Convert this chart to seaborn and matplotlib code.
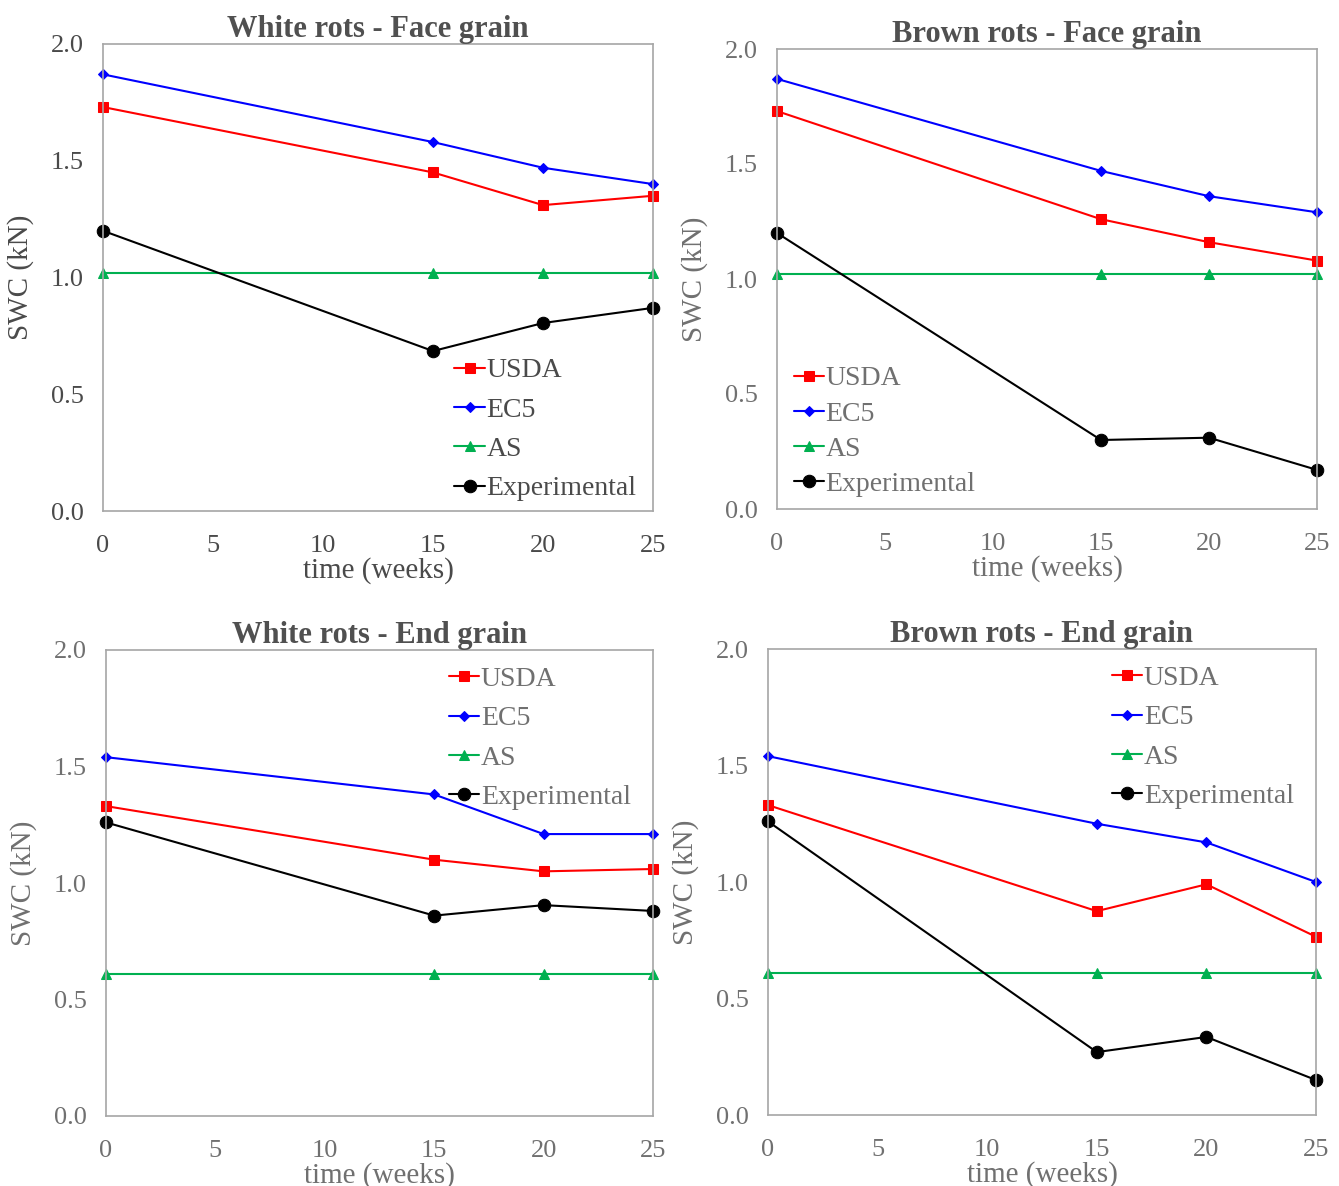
import pandas as pd
import seaborn as sns
import matplotlib.pyplot as plt

# time axis (weeks)
weeks = [0, 15, 20, 25]
series = ['USDA', 'EC5', 'AS', 'Experimental']

# White rots - Face grain
wf_usda = [1.73, 1.45, 1.31, 1.35]
wf_ec5 = [1.87, 1.58, 1.47, 1.40]
wf_as = [1.02, 1.02, 1.02, 1.02]
wf_exp = [1.20, 0.685, 0.805, 0.87]

# Brown rots - Face grain
bf_usda = [1.73, 1.26, 1.16, 1.08]
bf_ec5 = [1.87, 1.47, 1.36, 1.29]
bf_as = [1.02, 1.02, 1.02, 1.02]
bf_exp = [1.20, 0.30, 0.31, 0.17]

# White rots - End grain
we_usda = [1.33, 1.10, 1.05, 1.06]
we_ec5 = [1.54, 1.38, 1.21, 1.21]
we_as = [0.61, 0.61, 0.61, 0.61]
we_exp = [1.26, 0.86, 0.905, 0.88]

# Brown rots - End grain
be_usda = [1.33, 0.875, 0.99, 0.765]
be_ec5 = [1.54, 1.25, 1.17, 1.00]
be_as = [0.61, 0.61, 0.61, 0.61]
be_exp = [1.26, 0.27, 0.335, 0.15]

titles = ['White rots - Face grain', 'Brown rots - Face grain',
          'White rots - End grain', 'Brown rots - End grain']

colors = {'USDA': '#FF0000', 'EC5': '#0000FF', 'AS': '#00B050', 'Experimental': '#000000'}
markers = {'USDA': 's', 'EC5': 'D', 'AS': '^', 'Experimental': 'o'}
msizes = {'USDA': 7, 'EC5': 5.5, 'AS': 7, 'Experimental': 9}

def make_df(usda, ec5, as_, exp):
    rows = []
    for name, vals in zip(series, [usda, ec5, as_, exp]):
        for w, v in zip(weeks, vals):
            rows.append({'time': w, 'SWC': v, 'model': name})
    return pd.DataFrame(rows)

panels = [make_df(wf_usda, wf_ec5, wf_as, wf_exp),
          make_df(bf_usda, bf_ec5, bf_as, bf_exp),
          make_df(we_usda, we_ec5, we_as, we_exp),
          make_df(be_usda, be_ec5, be_as, be_exp)]

# axes rectangles in pixels (left, top, right, bottom)
W, H = 1339, 1186
boxes = [(103, 44, 653, 511), (777, 49, 1317, 509),
         (106, 650, 653, 1116), (768, 649, 1316, 1115)]
# legend placement: loc, anchor, label spacing
legend_opts = [('lower right', (1.0, -0.015), 0.5),
               ('lower left', (0.0, -0.01), 0.35),
               ('upper right', (0.99, 1.0), 0.5),
               ('upper right', (0.99, 1.0), 0.5)]
# first panel has darker text than the other three
text_grey = ['#4a4a4a', '#707070', '#707070', '#707070']
title_grey = '#505050'

sns.set_style('white')
plt.rcParams['font.family'] = ['Liberation Serif', 'DejaVu Serif']

fig = plt.figure(figsize=(W / 100, H / 100), dpi=100)

for i, df in enumerate(panels):
    x0, y0, x1, y1 = boxes[i]
    ax = fig.add_axes([x0 / W, 1 - y1 / H, (x1 - x0) / W, (y1 - y0) / H])
    for name in series:
        sub = df[df['model'] == name]
        sns.lineplot(data=sub, x='time', y='SWC', ax=ax, color=colors[name],
                     marker=markers[name], markersize=msizes[name],
                     markeredgecolor=colors[name], linewidth=1.5,
                     label=name, legend=True)
    ax.set_xlim(0, 25)
    ax.set_ylim(0, 2.0)
    ax.set_xticks([0, 5, 10, 15, 20, 25])
    ax.set_yticks([0.0, 0.5, 1.0, 1.5, 2.0])
    ax.set_yticklabels(['0.0', '0.5', '1.0', '1.5', '2.0'])
    for s in ax.spines.values():
        s.set_color('#A6A6A6')
        s.set_linewidth(1.2)
    for m in ax.lines:
        m.set_clip_on(False)
    g = text_grey[i]
    ax.tick_params(axis='both', length=0, labelsize=19, colors=g)
    ax.tick_params(axis='x', pad=17)
    ax.tick_params(axis='y', pad=14)
    ax.set_xlabel('time (weeks)', fontsize=21, color=g, labelpad=0)
    ax.set_ylabel('SWC (kN)', fontsize=21, color=g, labelpad=12)
    ax.set_title(titles[i], fontsize=22, fontweight='bold', color=title_grey, pad=5)
    loc, anchor, spacing = legend_opts[i]
    leg = ax.legend(loc=loc, bbox_to_anchor=anchor, frameon=False, fontsize=20,
                    handlelength=1.1, handletextpad=0.05, labelspacing=spacing,
                    borderaxespad=0.2)
    for t in leg.get_texts():
        t.set_color(g)

fig.savefig('out.png', dpi=100)
